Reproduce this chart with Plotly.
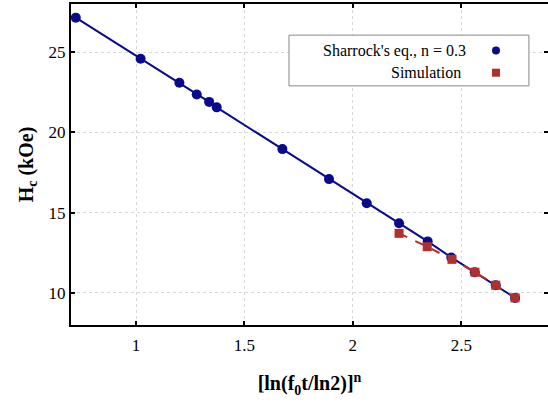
import plotly.graph_objects as go

# Sharrock's equation, n = 0.3
sharrock_x = [0.722, 1.021, 1.200, 1.280, 1.337, 1.372, 1.675, 1.890, 2.064, 2.213,
              2.345, 2.454, 2.562, 2.659, 2.748]
sharrock_hc = [27.15, 24.59, 23.09, 22.36, 21.90, 21.56, 18.96, 17.09, 15.59, 14.34,
               13.21, 12.21, 11.29, 10.48, 9.69]

# simulation
sim_x = [2.213, 2.343, 2.457, 2.563, 2.659, 2.748]
sim_hc = [13.71, 12.88, 12.09, 11.29, 10.48, 9.69]

x_ticks = [1, 1.5, 2, 2.5]
y_ticks = [10, 15, 20, 25]

blue = "#0a0a8c"
red = "#b0302e"
font = "Liberation Serif, serif"

fig = go.Figure()
fig.add_trace(go.Scatter(x=sharrock_x, y=sharrock_hc, mode="lines+markers",
                         line=dict(color=blue, width=2),
                         marker=dict(color=blue, size=10, symbol="circle"),
                         showlegend=False))
fig.add_trace(go.Scatter(x=sim_x, y=sim_hc, mode="lines+markers",
                         line=dict(color=red, width=2, dash="dash"),
                         marker=dict(color=red, size=9, symbol="square"),
                         showlegend=False))

axis_common = dict(showline=True, linecolor="black", linewidth=2, mirror="ticks",
                   ticks="inside", ticklen=4, tickwidth=1.5, tickcolor="black",
                   showgrid=True, gridcolor="#d8d8d8", griddash="dot", gridwidth=1,
                   zeroline=False, automargin=False,
                   tickfont=dict(family=font, size=17, color="black"))

fig.update_xaxes(range=[0.7, 2.9], tickvals=x_ticks, ticktext=[str(v) for v in x_ticks],
                 ticklabelstandoff=4,
                 title=dict(text="<b>[ln(f<sub>0</sub>t/ln2)]<sup>n</sup></b>",
                            font=dict(family=font, size=20, color="black"), standoff=22),
                 **axis_common)
fig.update_yaxes(range=[8, 28], tickvals=y_ticks,
                 title=dict(text="<b>H<sub>c</sub> (kOe)</b>",
                            font=dict(family=font, size=20, color="black"), standoff=10),
                 **axis_common)

# legend box drawn with markers on the right
fig.add_shape(type="rect", xref="paper", yref="paper", x0=0.457, x1=0.960, y0=0.745, y1=0.903,
              line=dict(color="#888888", width=1), fillcolor="white", layer="above")
fig.add_annotation(xref="paper", yref="paper", x=0.833, y=0.855, xanchor="right", yanchor="middle",
                   text="Sharrock's eq., n = 0.3", showarrow=False,
                   font=dict(family=font, size=16, color="black"))
fig.add_annotation(xref="paper", yref="paper", x=0.822, y=0.786, xanchor="right", yanchor="middle",
                   text="Simulation", showarrow=False,
                   font=dict(family=font, size=16, color="black"))
cx = (496 - 71) / 477
fig.add_shape(type="circle", xref="paper", yref="paper", x0=cx - 4 / 477, x1=cx + 4 / 477,
              y0=0.855 - 4 / 321, y1=0.855 + 4 / 321, fillcolor=blue, line=dict(width=0), layer="above")
fig.add_shape(type="rect", xref="paper", yref="paper", x0=cx - 4 / 477, x1=cx + 4 / 477,
              y0=0.786 - 4 / 321, y1=0.786 + 4 / 321, fillcolor=red, line=dict(width=0), layer="above")

fig.update_layout(width=548, height=402, margin=dict(l=71, r=0, t=4, b=77),
                  plot_bgcolor="white", paper_bgcolor="white",
                  font=dict(family=font, size=16, color="black"))

# drop the default page margin so the figure sits at the window's corner
fig.write_html("out.html", config={"displayModeBar": False},
               post_script="document.body.style.margin='0';")
